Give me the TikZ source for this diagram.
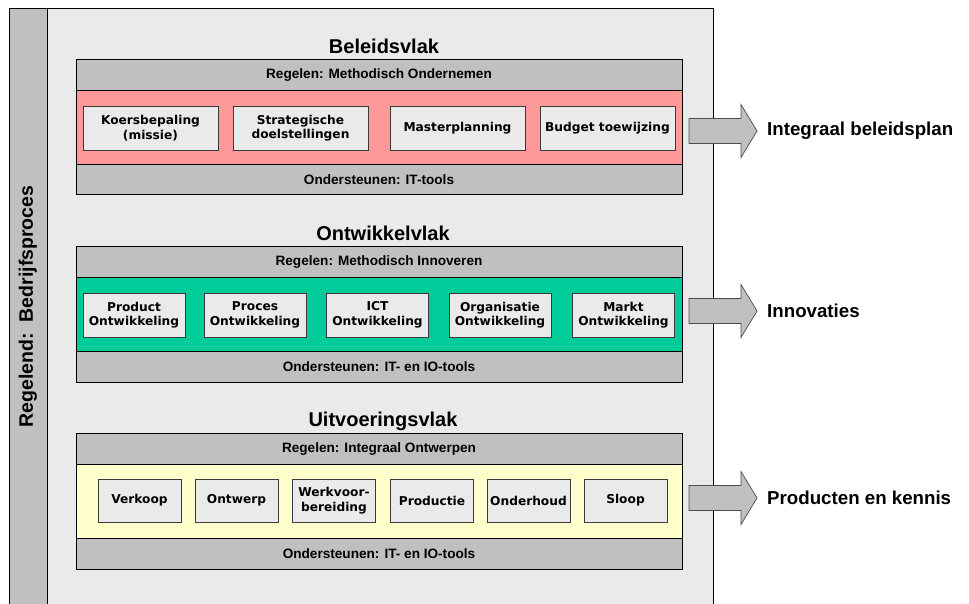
\documentclass[tikz,border=0pt]{standalone}
\usepackage{fontspec}
\setmainfont{Liberation Sans}
\newfontfamily\boxfont{DejaVu Sans}
\definecolor{panel}{HTML}{EAEAEA}
\definecolor{band}{HTML}{C0C0C0}
\definecolor{pinklayer}{HTML}{FF9999}
\definecolor{greenlayer}{HTML}{00CC99}
\definecolor{yellowlayer}{HTML}{FFFFCC}
\definecolor{boxline}{HTML}{3A3A3A}
\tikzset{
  bandbox/.style={draw=black, fill=band, line width=0.8pt, minimum width=606pt, minimum height=30.5pt, inner sep=0pt,
    font=\bfseries\fontsize{13.6}{15}\selectfont},
  layerbox/.style={draw=black, line width=0.8pt, minimum width=606pt, inner sep=0pt},
  itembox/.style={draw=boxline, fill=panel, line width=0.9pt, inner sep=0pt, align=center,
    font=\boxfont\bfseries\fontsize{12.2}{14.5}\selectfont},
  title/.style={font=\bfseries\fontsize{20}{22}\selectfont, inner sep=0pt},
  outlabel/.style={font=\bfseries\fontsize{18.7}{21}\selectfont, anchor=west, inner sep=0pt},
  blockarrow/.style={draw=black!70, fill=band, line width=0.7pt, line join=miter}
}
\begin{document}
\begin{tikzpicture}[x=1pt, y=-1pt]
\useasboundingbox (0,0) rectangle (969,603);
\fill[white] (0,0) rectangle (969,603);

% outer panel and the vertical process column
\begin{scope}
\clip (0,0) rectangle (969,603);
\draw[fill=panel, line width=0.8pt] (9,8) rectangle (713,615);
\draw[fill=band, line width=0.8pt] (9,8) rectangle (47,615);
\end{scope}
\node[rotate=90, font=\bfseries\fontsize{19.5}{21}\selectfont, inner sep=0pt] (proc) at (28,306.5) {Regelend:\ \ Bedrijfsproces};

% ---------- Beleidsvlak ----------
\node[title] (t1) at (384,46) {Beleidsvlak};
\node[layerbox, fill=pinklayer, minimum height=74pt] (l1) at (379,127) {};
\node[bandbox] (r1) at (379,75) {Regelen: Methodisch Ondernemen};
\node[bandbox] (o1) at (379,179.5) {Ondersteunen: IT-tools};
\node[itembox, minimum width=135pt, minimum height=44pt] (b11) at (150.5,128) {Koersbepaling\\(missie)};
\node[itembox, minimum width=135pt, minimum height=44pt] (b12) at (300.5,128) {Strategische\\doelstellingen};
\node[itembox, minimum width=135pt, minimum height=44pt] (b13) at (457.5,128) {Masterplanning};
\node[itembox, minimum width=135pt, minimum height=44pt] (b14) at (607.5,128) {Budget toewijzing};

% ---------- Ontwikkelvlak ----------
\node[title] (t2) at (383,233) {Ontwikkelvlak};
\node[layerbox, fill=greenlayer, minimum height=75pt] (l2) at (379,314.5) {};
\node[bandbox] (r2) at (379,262) {Regelen: Methodisch Innoveren};
\node[bandbox] (o2) at (379,367) {Ondersteunen: IT- en IO-tools};
\node[itembox, minimum width=102pt, minimum height=44pt] (b21) at (134,315) {Product\\Ontwikkeling};
\node[itembox, minimum width=102pt, minimum height=44pt] (b22) at (255,315) {Proces\\Ontwikkeling};
\node[itembox, minimum width=102pt, minimum height=44pt] (b23) at (377.5,315) {ICT\\Ontwikkeling};
\node[itembox, minimum width=102pt, minimum height=44pt] (b24) at (500,315) {Organisatie\\Ontwikkeling};
\node[itembox, minimum width=102pt, minimum height=44pt] (b25) at (623.5,315) {Markt\\Ontwikkeling};

% ---------- Uitvoeringsvlak ----------
\node[title] (t3) at (383,421) {Uitvoeringsvlak};
\node[layerbox, fill=yellowlayer, minimum height=75pt] (l3) at (379,501.5) {};
\node[bandbox] (r3) at (379,449) {Regelen: Integraal Ontwerpen};
\node[bandbox] (o3) at (379,554) {Ondersteunen: IT- en IO-tools};
\node[itembox, minimum width=83pt, minimum height=43pt] (b31) at (139.5,500.5) {Verkoop};
\node[itembox, minimum width=83pt, minimum height=43pt] (b32) at (236.5,500.5) {Ontwerp};
\node[itembox, minimum width=83pt, minimum height=43pt] (b33) at (334,500.5) {Werkvoor-\\bereiding};
\node[itembox, minimum width=83pt, minimum height=43pt] (b34) at (432,500.5) {Productie};
\node[itembox, minimum width=83pt, minimum height=43pt] (b35) at (528.5,500.5) {Onderhoud};
\node[itembox, minimum width=83pt, minimum height=43pt] (b36) at (625.5,500.5) {Sloop};

% ---------- outputs ----------
\coordinate (a1) at (689,131);
\coordinate (a2) at (689,311);
\coordinate (a3) at (689,498);
\foreach \a in {a1,a2,a3}{
  \draw[blockarrow] (\a) ++(0,-12.5) -- ++(52,0) -- ++(0,-14) -- ++(16,26.5) -- ++(-16,26.5) -- ++(0,-14) -- ++(-52,0) -- cycle;
}
\node[outlabel] (p1) at (767,131) {Integraal beleidsplan};
\node[outlabel] (p2) at (767,311) {Innovaties};
\node[outlabel] (p3) at (767,498) {Producten en kennis};
\end{tikzpicture}
\end{document}
